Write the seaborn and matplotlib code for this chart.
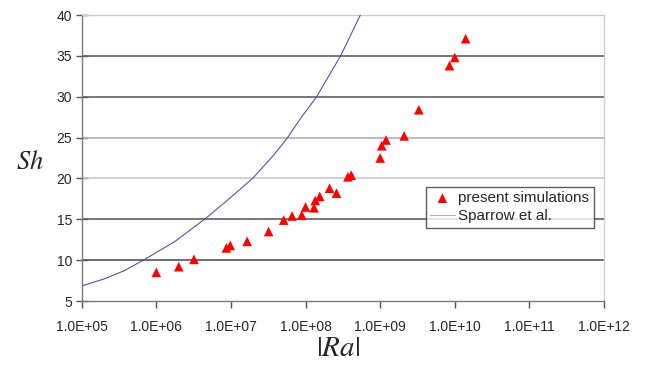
import seaborn as sns
import matplotlib
matplotlib.use("Agg")
import matplotlib.pyplot as plt
import pandas as pd

sns.set_style("white")
plt.rcParams['font.family'] = ['Liberation Sans', 'DejaVu Sans']
plt.rcParams['mathtext.fontset'] = 'stix'

# present simulations
sim_ra = [1.0e6, 2.0e6, 3.2e6, 8.7e6, 9.8e6, 1.65e7, 3.2e7, 5.1e7, 6.6e7, 8.9e7,
          1.0e8, 1.3e8, 1.35e8, 1.55e8, 2.1e8, 2.6e8, 3.7e8, 4.1e8,
          1.0e9, 1.05e9, 1.2e9, 2.1e9, 3.3e9, 8.5e9, 1.0e10, 1.4e10]
sim_sh = [8.5, 9.2, 10.1, 11.5, 11.8, 12.3, 13.5, 14.9, 15.4, 15.5,
          16.5, 16.4, 17.3, 17.8, 18.8, 18.2, 20.2, 20.4,
          22.5, 24.0, 24.7, 25.2, 28.4, 33.8, 34.8, 37.1]

# Sparrow et al. curve
sparrow_ra = [1.0e5, 2.04e5, 3.8e5, 6.6e5, 1.78e6, 4.57e6, 8.9e6, 2.0e7,
              3.7e7, 5.75e7, 8.5e7, 1.41e8, 2.95e8, 5.43e8]
sparrow_sh = [6.85, 7.73, 8.75, 9.97, 12.29, 15.1, 17.3, 20.1,
              22.8, 25.0, 27.3, 30.0, 35.0, 40.0]

x_ticks = [1e5, 1e6, 1e7, 1e8, 1e9, 1e10, 1e11, 1e12]
x_labels = ['1.0E+05', '1.0E+06', '1.0E+07', '1.0E+08',
            '1.0E+09', '1.0E+10', '1.0E+11', '1.0E+12']
y_ticks = [5, 10, 15, 20, 25, 30, 35, 40]

sim = pd.DataFrame({'Ra': sim_ra, 'Sh': sim_sh})
spa = pd.DataFrame({'Ra': sparrow_ra, 'Sh': sparrow_sh})

fig = plt.figure(figsize=(6.5, 3.65), dpi=100)
ax = fig.add_axes([0.1257, 0.1753, 0.8035, 0.7836])

sns.lineplot(data=spa, x='Ra', y='Sh', ax=ax, color='#4848b0', lw=0.75,
             label='Sparrow et al.', sort=True, zorder=3)
sns.scatterplot(data=sim, x='Ra', y='Sh', ax=ax, marker='^', color='#ff0000',
                s=48, edgecolor='none', label='present simulations', zorder=4)

ax.set_xscale('log')
ax.set_xlim(1e5, 1e12)
ax.set_ylim(5, 40)
ax.set_xticks(x_ticks)
ax.set_xticklabels(x_labels)
ax.minorticks_off()
ax.set_yticks(y_ticks)

# horizontal gridlines
grid_cols = {10: '#555555', 15: '#606060', 20: '#c8c8c8', 25: '#b0b0b0', 30: '#606060', 35: '#606060'}
for yv, c in grid_cols.items():
    ax.axhline(yv, color=c, lw=1.2, zorder=1)

for side in ['left', 'bottom']:
    ax.spines[side].set_color('#7a7a7a')
    ax.spines[side].set_linewidth(1.0)
for side in ['top', 'right']:
    ax.spines[side].set_color('#cccccc')
    ax.spines[side].set_linewidth(1.0)

ax.tick_params(axis='y', direction='inout', length=8, width=1, color='#555555',
               labelsize=10, pad=3, left=True)
ax.tick_params(axis='x', direction='out', length=5, width=1, color='#555555',
               labelsize=10, pad=9, bottom=True)

ax.set_xlabel(r'$|Ra|$', fontsize=21, labelpad=0, va='center')
ax.set_ylabel(r'$Sh$', fontsize=19, rotation=0, labelpad=0, va='center')
ax.yaxis.set_label_coords(-0.1, 0.486)
ax.xaxis.set_label_coords(0.49, -0.163)

handles, labels = ax.get_legend_handles_labels()
order = [labels.index('present simulations'), labels.index('Sparrow et al.')]
leg = ax.legend([handles[i] for i in order], [labels[i] for i in order],
                loc='upper right', bbox_to_anchor=(0.981, 0.40), borderaxespad=0,
                fontsize=11, frameon=True, fancybox=False, edgecolor='#333333',
                handlelength=1.6, handletextpad=0.25, borderpad=0.3, labelspacing=0.25)
leg.get_frame().set_linewidth(1.0)
leg.legend_handles[1].set_color('#b0b0e0')

fig.savefig('out.png', dpi=100)
